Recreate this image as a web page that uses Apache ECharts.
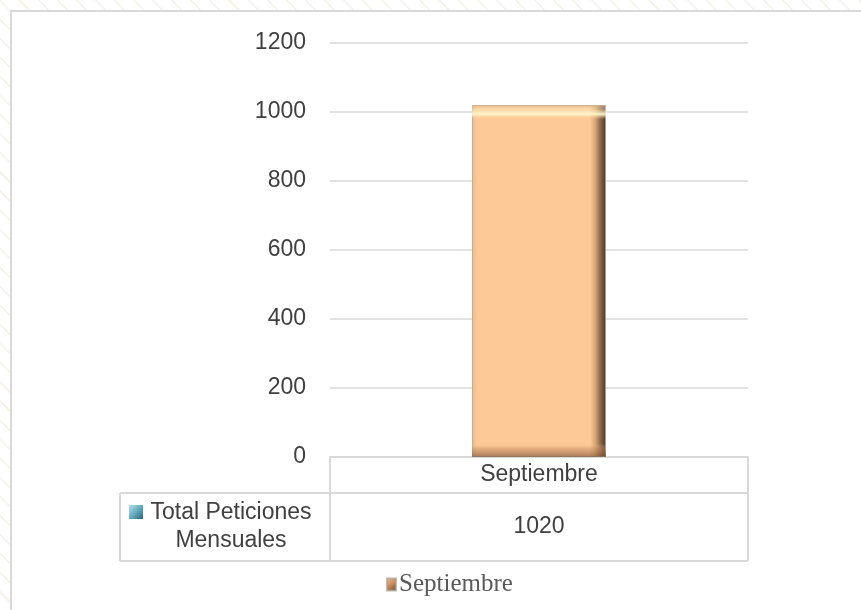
<!DOCTYPE html>
<html>
<head>
<meta charset="utf-8">
<title>Total Peticiones Mensuales</title>
<script src="https://cdn.jsdelivr.net/npm/echarts@6/dist/echarts.min.js"></script>
<style>
html, body {
  margin: 0;
  padding: 0;
}
body {
  width: 861px;
  height: 610px;
  overflow: hidden;
  position: relative;
  background: repeating-linear-gradient(45deg, #ffffff 0px, #ffffff 12px, #f6f3e8 12px, #f6f3e8 13.5px);
}
.panel {
  position: absolute;
  left: 10px;
  top: 10px;
  width: 870px;
  height: 620px;
  background-color: #ffffff;
  border-left: 2px solid #d9d9d9;
  border-top: 2px solid #d9d9d9;
}
#main {
  position: absolute;
  left: 0;
  top: 0;
  width: 861px;
  height: 610px;
}
</style>
</head>
<body>
<div class="panel"></div>
<div id="main"></div>
<script>
// datos del grafico
const categories = ['Septiembre'];
const seriesName = 'Septiembre';
const rowLabel = ['Total Peticiones', 'Mensuales'];
const values = [1020];
const yMin = 0;
const yMax = 1200;
const yStep = 200;

// tabla de datos bajo el eje
const gridLeft = 330;
const gridRight = 748;
const axisY = 457;
const headerH = 36;
const rowH = 68;
const labelLeft = 120;
const lineColor = '#d9d9d9';
const textColor = '#404040';
const sansFont = 'Liberation Sans, Arial, sans-serif';

let chartDom = document.getElementById('main');
let myChart = echarts.init(chartDom, null, {renderer: 'canvas'});

function hLine(x1, x2, y) {
  return {
    type: 'line',
    shape: {x1: x1, y1: y, x2: x2, y2: y},
    style: {stroke: lineColor, lineWidth: 2}
  };
}
function vLine(x, y1, y2) {
  return {
    type: 'line',
    shape: {x1: x, y1: y1, x2: x, y2: y2},
    style: {stroke: lineColor, lineWidth: 2}
  };
}

const rowTop = axisY + headerH;
const rowBottom = rowTop + rowH;
const labelCenter = (labelLeft + gridLeft) / 2 + 6;

let option = {
  backgroundColor: 'transparent',
  animation: false,
  grid: {
    left: gridLeft,
    right: 861 - gridRight,
    top: 43,
    bottom: 610 - axisY
  },
  legend: {
    data: [{
      name: seriesName,
      itemStyle: {
        color: new echarts.graphic.LinearGradient(0, 0, 1, 1, [
          {offset: 0, color: '#f2c29a'},
          {offset: 0.5, color: '#c98a5c'},
          {offset: 1, color: '#5e3f29'}
        ])
      }
    }],
    left: 381,
    top: 567,
    icon: 'rect',
    itemWidth: 9,
    itemHeight: 12,
    itemGap: 4,
    textStyle: {
      fontFamily: 'Liberation Serif, Times New Roman, serif',
      fontSize: 25,
      color: '#595959',
      padding: [0, 0, 0, -2]
    }
  },
  xAxis: [
    {
      type: 'category',
      data: categories,
      axisLine: {show: true, lineStyle: {color: lineColor, width: 2}},
      axisTick: {show: true, length: headerH + rowH, lineStyle: {color: lineColor, width: 2}},
      axisLabel: {
        margin: 18,
        verticalAlign: 'middle',
        fontFamily: sansFont,
        fontSize: 23,
        color: textColor
      }
    },
    {
      // fila de valores de la tabla
      type: 'category',
      data: categories,
      position: 'bottom',
      offset: headerH,
      axisLine: {show: false},
      axisTick: {show: false},
      axisLabel: {
        margin: rowH / 2,
        verticalAlign: 'middle',
        fontFamily: sansFont,
        fontSize: 23,
        color: textColor,
        formatter: function (value, index) {
          return String(values[index]);
        }
      }
    }
  ],
  yAxis: {
    type: 'value',
    min: yMin,
    max: yMax,
    interval: yStep,
    axisLine: {show: false},
    axisTick: {show: false},
    axisLabel: {
      margin: 24,
      fontFamily: sansFont,
      fontSize: 23,
      color: textColor,
      formatter: function (v) {
        return String(v);
      }
    },
    splitLine: {lineStyle: {color: lineColor, width: 1.5}}
  },
  series: [
    {
      name: seriesName,
      type: 'bar',
      barWidth: 134,
      data: values,
      itemStyle: {
        borderColor: 'rgba(170,160,150,0.7)',
        borderWidth: 1,
        color: new echarts.graphic.LinearGradient(0, 0, 1, 0, [
          {offset: 0, color: '#ecb888'},
          {offset: 0.04, color: '#fdca97'},
          {offset: 0.88, color: '#fdca97'},
          {offset: 0.92, color: '#d7a676'},
          {offset: 0.96, color: '#8c6547'},
          {offset: 1, color: '#4a3425'}
        ])
      }
    },
    {
      // brillo del bisel superior e inferior
      name: 'bisel',
      type: 'bar',
      barWidth: 134,
      barGap: '-100%',
      silent: true,
      data: values,
      itemStyle: {
        color: new echarts.graphic.LinearGradient(0, 0, 0, 1, [
          {offset: 0, color: 'rgba(215,170,130,0.6)'},
          {offset: 0.012, color: 'rgba(255,236,190,0.4)'},
          {offset: 0.026, color: 'rgba(255,248,205,0.95)'},
          {offset: 0.04, color: 'rgba(253,202,151,0)'},
          {offset: 0.962, color: 'rgba(253,202,151,0)'},
          {offset: 0.975, color: 'rgba(200,140,95,0.45)'},
          {offset: 1, color: 'rgba(120,80,55,0.65)'}
        ])
      }
    }
  ],
  graphic: [
    hLine(labelLeft, gridRight, rowTop),
    hLine(labelLeft, gridRight, rowBottom),
    vLine(labelLeft, rowTop, rowBottom),
    {
      type: 'rect',
      shape: {x: 129, y: 505, width: 14, height: 14},
      style: {
        fill: new echarts.graphic.LinearGradient(0, 0, 1, 1, [
          {offset: 0, color: '#b8e0ea'},
          {offset: 0.5, color: '#63adc1'},
          {offset: 1, color: '#2d6474'}
        ])
      }
    },
    {
      type: 'text',
      x: labelCenter,
      y: rowTop + rowH / 2,
      style: {
        text: rowLabel.join('\n'),
        align: 'center',
        verticalAlign: 'middle',
        lineHeight: 28,
        font: '23px ' + sansFont,
        fill: textColor
      }
    }
  ]
};

option && myChart.setOption(option);
</script>
</body>
</html>
